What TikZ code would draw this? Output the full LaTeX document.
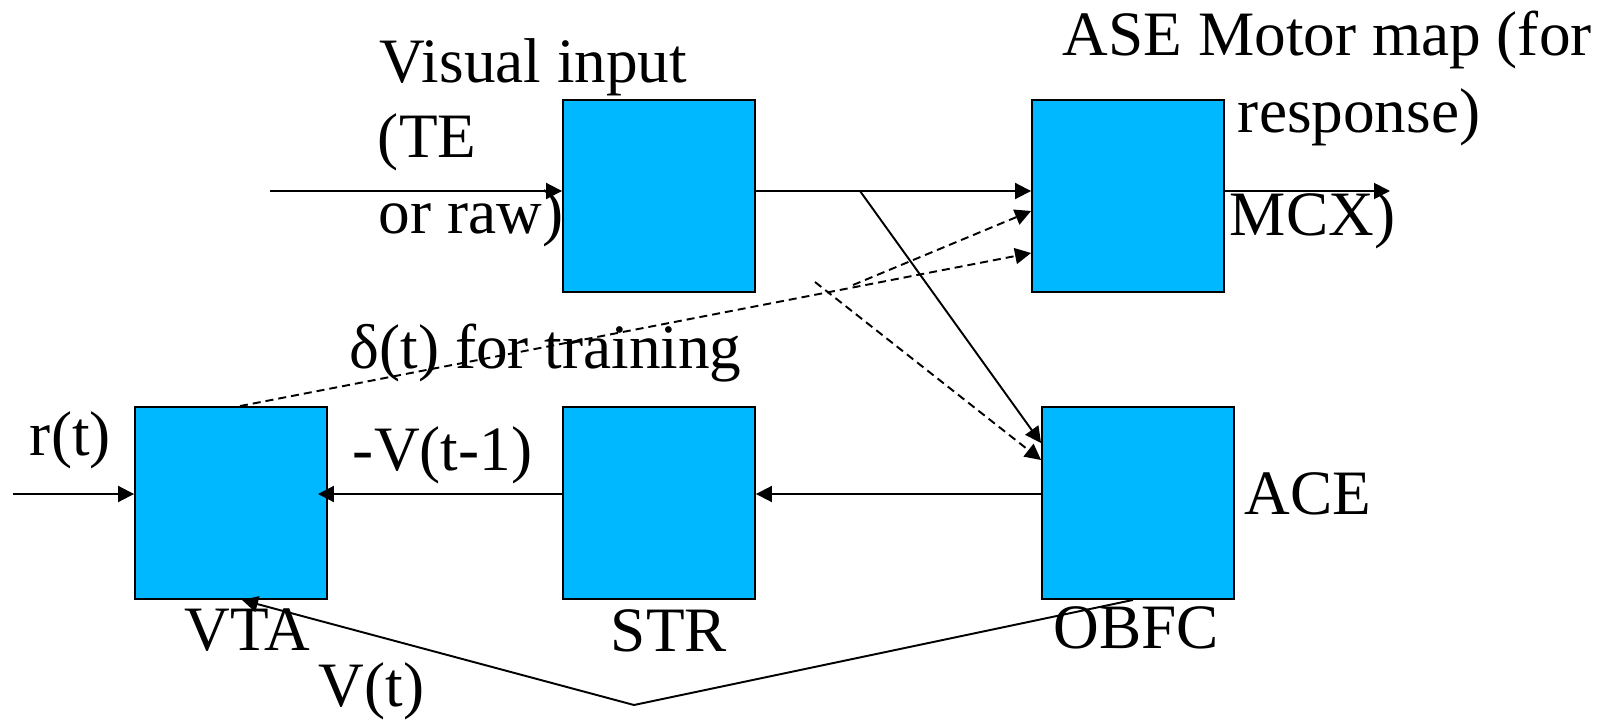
\documentclass[tikz,border=0pt]{standalone}
\usepackage{fontspec}
\setmainfont{Liberation Serif}
\usetikzlibrary{arrows.meta}
\definecolor{areablue}{RGB}{0,184,255}

\begin{document}
\begin{tikzpicture}[x=0.02cm, y=-0.02cm,
        >={Triangle[length=0.32cm, width=0.32cm]},
        line width=1.1pt,
        area/.style={draw, fill=areablue, minimum width=3.84cm, minimum height=3.84cm, inner sep=0pt},
        lbl/.style={anchor=base west, inner sep=0pt, font=\fontsize{36}{44}\selectfont},
        trainline/.style={->, dash pattern=on 0.16cm off 0.1cm}]
        \useasboundingbox (0,0) rectangle (1614,720);
        % Nodes
        \node[area] (vis) at (659,196) {};
        \node[area] (ase) at (1128,196) {};
        \node[area] (vta) at (231,503) {};
        \node[area] (str) at (659,503) {};
        \node[area] (obfc) at (1138,503) {};
        % Labels
        \node[lbl] (vislbl) at (379,82) {Visual input};
        \node[lbl] (telbl) at (377,157) {(TE};
        \node[lbl] (rawlbl) at (378,233) {or raw)};
        \node[lbl] (aselbl) at (1062,55) {ASE Motor map (for};
        \node[lbl] (resplbl) at (1237,132) {response)};
        \node[lbl] (mcxlbl) at (1229,235) {MCX)};
        \node[lbl] (deltalbl) at (349,368) {δ(t) for training};
        \node[lbl] (rlbl) at (29,455) {r(t)};
        \node[lbl] (vprevlbl) at (352,470) {-V(t-1)};
        \node[lbl] (acelbl) at (1244,514) {ACE};
        \node[lbl] (vtalbl) at (184,650) {VTA};
        \node[lbl] (strlbl) at (610,651) {STR};
        \node[lbl] (obfclbl) at (1053,648) {OBFC};
        \node[lbl] (vlbl) at (318,706) {V(t)};
        % Free ends and bends
        \coordinate (visin) at (270,191);
        \coordinate (mcxout) at (1390,191);
        \coordinate (rin) at (13,494);
        \coordinate (fork) at (860,191);
        \coordinate (split) at (853,285);
        \coordinate (cross) at (815,282);
        \coordinate (vlow) at (634,705);
        % Edges
        \draw[->] (visin) -- ([yshift=0.1cm]vis.west);
        \draw[->] ([yshift=0.1cm]vis.east) -- ([yshift=0.1cm]ase.west);
        \draw[->] ([yshift=0.1cm]ase.east) -- (mcxout);
        \draw[->] (fork) -- ([yshift=1.2cm]obfc.west);
        \draw[->] ([yshift=0.18cm]obfc.west) -- ([yshift=0.18cm]str.east);
        \draw[->, shorten >=-0.2cm] ([yshift=0.18cm]str.west) -- ([yshift=0.18cm]vta.east);
        \draw[->] (rin) -- ([yshift=0.18cm]vta.west);
        \draw[->] ([xshift=-0.1cm]obfc.south) -- (vlow) -- ([xshift=0.22cm]vta.south);
        \draw[trainline] ([xshift=0.18cm]vta.north) -- ([yshift=-1.14cm]ase.west);
        \draw[trainline] (split) -- ([yshift=-0.3cm]ase.west);
        \draw[trainline] (cross) -- ([yshift=0.86cm]obfc.west);
\end{tikzpicture}
\end{document}
